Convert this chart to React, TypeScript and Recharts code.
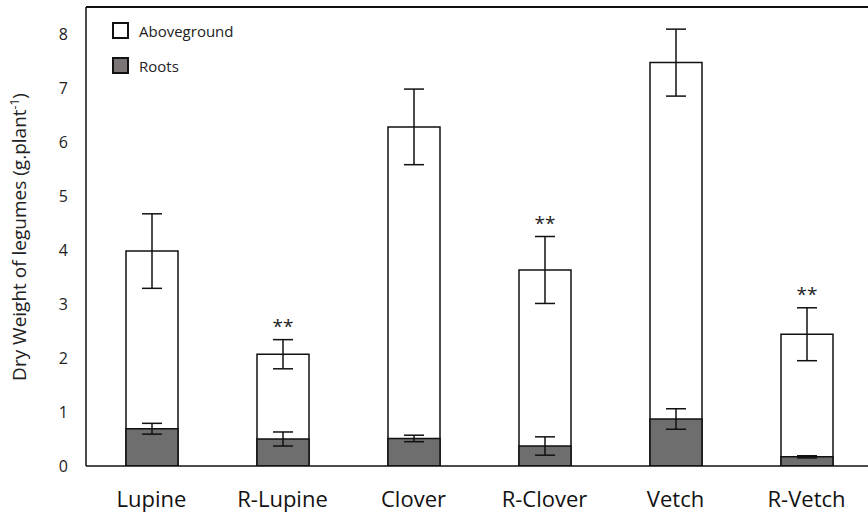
import React from "react";
import {
  ComposedChart,
  Bar,
  XAxis,
  YAxis,
  ErrorBar,
  LabelList,
  ReferenceLine,
} from "recharts";

const categories = ["Lupine", "R-Lupine", "Clover", "R-Clover", "Vetch", "R-Vetch"];
const aboveground = [3.98, 2.07, 6.28, 3.63, 7.47, 2.44];
const abovegroundErr = [0.69, 0.27, 0.7, 0.62, 0.62, 0.49];
const roots = [0.69, 0.5, 0.51, 0.37, 0.87, 0.17];
const rootsErr = [0.1, 0.13, 0.06, 0.17, 0.19, 0.02];
const significance = ["", "**", "", "**", "", "**"];
const yTicks = [0, 1, 2, 3, 4, 5, 6, 7, 8];
const legendItems = [
  { label: "Aboveground", fill: "#ffffff" },
  { label: "Roots", fill: "#7b7575" },
];

const data = categories.map((name, i) => ({
  name,
  aboveground: aboveground[i],
  abovegroundErr: abovegroundErr[i],
  roots: roots[i],
  rootsErr: rootsErr[i],
}));

const FONT = "'Open Sans', sans-serif";
const ROOT_FILL = "#6e6e6e";

function Stars(props: any) {
  const { x, y, width, height, value, index } = props;
  const mark = significance[index];
  if (!mark) return null;
  const pxPerUnit = height / value;
  const top = y - abovegroundErr[index] * pxPerUnit;
  return (
    <text
      x={x + width / 2}
      y={top - 7}
      textAnchor="middle"
      fontSize={19}
      fontFamily={FONT}
      fill="#222"
    >
      {mark}
    </text>
  );
}

function LegendBox() {
  return (
    <div
      style={{
        position: "absolute",
        left: 112,
        top: 13,
        fontFamily: FONT,
        fontSize: 15,
        color: "#222",
      }}
    >
      {legendItems.map((it) => (
        <div key={it.label} style={{ display: "flex", alignItems: "center", height: 35 }}>
          <span
            style={{
              width: 13,
              height: 13,
              border: "2px solid #111",
              background: it.fill,
              marginRight: 10,
            }}
          />
          {it.label}
        </div>
      ))}
    </div>
  );
}

function YLabel() {
  return (
    <text
      x={26}
      y={237}
      transform="rotate(-90 26 237)"
      textAnchor="middle"
      fontSize={19}
      fontFamily={FONT}
      fill="#222"
    >
      Dry Weight of legumes (g.plant
      <tspan dy={-7} fontSize={12}>
        -1
      </tspan>
      <tspan dy={7}>)</tspan>
    </text>
  );
}

export default function App() {
  return (
    <div
      style={{
        position: "fixed",
        left: 0,
        top: 0,
        width: 868,
        height: 513,
        overflow: "hidden",
        background: "#fff",
      }}
    >
      <ComposedChart
        width={872}
        height={513}
        data={data}
        margin={{ top: 7, right: 0, bottom: 0, left: 0 }}
      >
        <XAxis
          xAxisId="a"
          dataKey="name"
          height={47}
          tickLine={false}
          tickSize={0}
          tickMargin={25}
          axisLine={{ stroke: "#111", strokeWidth: 1.5 }}
          tick={{ fontSize: 22, fontFamily: FONT, fill: "#111" }}
        />
        <XAxis xAxisId="b" dataKey="name" hide />
        <YAxis
          width={86}
          domain={[0, 8.5]}
          ticks={yTicks}
          tickLine={false}
          tickSize={0}
          tickMargin={18}
          axisLine={{ stroke: "#111", strokeWidth: 1.5 }}
          tick={{ fontSize: 16, fontFamily: FONT, fill: "#222" }}
          label={<YLabel />}
          allowDataOverflow
        />
        <ReferenceLine
          xAxisId="a"
          y={8.5}
          stroke="#111"
          strokeWidth={2}
          ifOverflow="visible"
        />
        <Bar
          xAxisId="a"
          dataKey="aboveground"
          name="Aboveground"
          barSize={52}
          fill="#ffffff"
          stroke="#111"
          strokeWidth={1.5}
          isAnimationActive={false}
        >
          <ErrorBar dataKey="abovegroundErr" width={10} stroke="#111" strokeWidth={1.5} />
          <LabelList dataKey="aboveground" content={<Stars />} />
        </Bar>
        <Bar
          xAxisId="b"
          dataKey="roots"
          name="Roots"
          barSize={52}
          fill={ROOT_FILL}
          stroke="#111"
          strokeWidth={1.5}
          isAnimationActive={false}
        >
          <ErrorBar dataKey="rootsErr" width={10} stroke="#111" strokeWidth={1.5} />
        </Bar>
      </ComposedChart>
      <LegendBox />
    </div>
  );
}
